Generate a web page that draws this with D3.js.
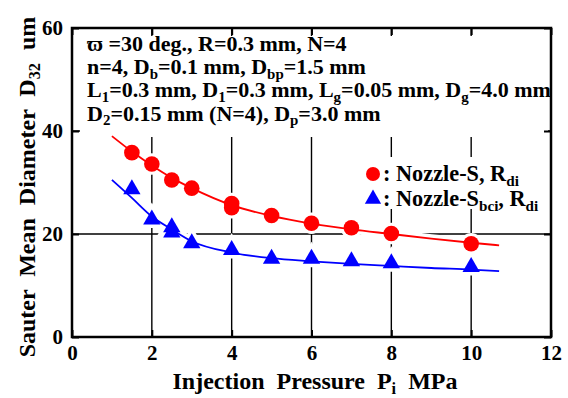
<!DOCTYPE html>
<html>
<head>
<meta charset="utf-8">
<script src="https://cdn.jsdelivr.net/npm/d3@7/dist/d3.min.js"></script>
<style>
  html, body { margin: 0; padding: 0; background: #fff; }
  svg { display: block; }
  svg text { font-family: "Liberation Serif", "DejaVu Serif", serif; font-weight: bold; fill: #000; }
</style>
</head>
<body>
<svg id="chart" width="568" height="398"></svg>
<script>
// ---- data ----
const xTicks = [0, 2, 4, 6, 8, 10, 12];
const yTicks = [0, 20, 40, 60];
const gridX = [2, 4, 6, 8, 10];
const gridY = [20, 40];

const pressureS = [1.5, 2, 2.5, 3, 4, 4, 5, 6, 7, 8, 10];
const d32S      = [35.8, 33.6, 30.5, 28.9, 25.9, 25.1, 23.6, 22.1, 21.2, 20.1, 18.1];

const pressureSbci = [1.5, 2, 2.5, 2.5, 3, 4, 5, 6, 7, 8, 10];
const d32Sbci      = [28.7, 22.8, 21.3, 20.3, 18.2, 16.9, 15.2, 15.2, 14.7, 14.3, 13.6];

const fitX    = [1, 1.5, 2, 2.5, 3, 4, 5, 6, 7, 8, 9, 10, 10.7];
const fitS    = [39.0, 36.0, 33.3, 30.9, 28.9, 25.6, 23.5, 22.0, 20.9, 20.0, 19.1, 18.3, 17.8];
const fitSbci = [30.5, 27.0, 23.4, 20.9, 18.6, 16.4, 15.3, 14.7, 14.2, 13.8, 13.4, 13.1, 12.8];

const svg = d3.select("#chart");
const L = 72, R = 551, T = 28, B = 337;
const x = d3.scaleLinear().domain([0, 12]).range([L, R]);
const y = d3.scaleLinear().domain([0, 60]).range([B, T]);

// grid lines
const g = svg.append("g");
g.selectAll(".gx").data(gridX).join("line")
  .attr("x1", d => x(d)).attr("x2", d => x(d)).attr("y1", T).attr("y2", B)
  .attr("stroke", "#000").attr("stroke-width", 1.4);
g.selectAll(".gy").data(gridY).join("line")
  .attr("y1", d => y(d)).attr("y2", d => y(d)).attr("x1", L).attr("x2", R)
  .attr("stroke", "#000").attr("stroke-width", 1.4);

// white backgrounds of annotation and legend
svg.append("rect").attr("x", 80).attr("y", 36).attr("width", 468).attr("height", 101).attr("fill", "#fff");
svg.append("rect").attr("x", 358).attr("y", 157).attr("width", 190).attr("height", 52).attr("fill", "#fff");

const lineGen = arr => d3.line().x((d, i) => x(fitX[i])).y((d, i) => y(arr[i])).curve(d3.curveMonotoneX)(arr);
const tri = d3.symbol().type(d3.symbolTriangle).size(130);

// halos
svg.append("path").attr("d", lineGen(fitS)).attr("fill", "none").attr("stroke", "#fff").attr("stroke-width", 9);
svg.append("path").attr("d", lineGen(fitSbci)).attr("fill", "none").attr("stroke", "#fff").attr("stroke-width", 9);
svg.selectAll(".hc").data(pressureS).join("circle")
  .attr("cx", d => x(d)).attr("cy", (d, i) => y(d32S[i])).attr("r", 7.8)
  .attr("fill", "#fff").attr("stroke", "#fff").attr("stroke-width", 6);
svg.selectAll(".ht").data(pressureSbci).join("path")
  .attr("d", tri).attr("transform", (d, i) => `translate(${x(d)},${y(d32Sbci[i])})`)
  .attr("fill", "#fff").attr("stroke", "#fff").attr("stroke-width", 7);

// curves
svg.append("path").attr("d", lineGen(fitS)).attr("fill", "none").attr("stroke", "#ff0000").attr("stroke-width", 1.8);
svg.append("path").attr("d", lineGen(fitSbci)).attr("fill", "none").attr("stroke", "#0000ff").attr("stroke-width", 1.8);

// markers
svg.selectAll(".mc").data(pressureS).join("circle")
  .attr("cx", d => x(d)).attr("cy", (d, i) => y(d32S[i])).attr("r", 7.8)
  .attr("fill", "#ff0000");
svg.selectAll(".mt").data(pressureSbci).join("path")
  .attr("d", tri).attr("transform", (d, i) => `translate(${x(d)},${y(d32Sbci[i])})`)
  .attr("fill", "#0000ff");

// axes with inward ticks
const ax = svg.append("g");
ax.append("g").attr("transform", `translate(0,${B})`)
  .call(d3.axisBottom(x).tickValues(xTicks).tickSize(-7).tickPadding(8).tickFormat(d3.format("d")));
ax.append("g").attr("transform", `translate(0,${T})`)
  .call(d3.axisTop(x).tickValues(xTicks).tickSize(-7).tickFormat(""));
ax.append("g").attr("transform", `translate(${L},0)`)
  .call(d3.axisLeft(y).tickValues(yTicks).tickSize(-7).tickPadding(9).tickFormat(d3.format("d")));
ax.append("g").attr("transform", `translate(${R},0)`)
  .call(d3.axisRight(y).tickValues(yTicks).tickSize(-7).tickFormat(""));
ax.selectAll(".domain").remove();
ax.selectAll(".tick line").attr("stroke", "#000").attr("stroke-width", 2);
ax.selectAll(".tick text").attr("font-family", null)
  .style("font-family", "'Liberation Serif', 'DejaVu Serif', serif").style("font-weight", "bold")
  .style("font-size", "21px").attr("fill", "#000");

svg.append("rect").attr("x", L).attr("y", T).attr("width", R - L).attr("height", B - T)
  .attr("fill", "none").attr("stroke", "#000").attr("stroke-width", 2.5);

// rich text with subscripts (no empty tspans)
function richText(parent, xPos, yPos, parts, size) {
  const t = parent.append("text").attr("x", xPos).attr("y", yPos)
    .style("font-size", size + "px").style("white-space", "pre");
  let shift = 0;
  parts.forEach(p => {
    if (typeof p === "string") {
      t.append("tspan").attr("dy", -shift).text(p);
      shift = 0;
    } else {
      const s = size * 0.22;
      t.append("tspan").attr("dy", s - shift).style("font-size", (size * 0.68) + "px").text(p.sub);
      shift = s;
    }
  });
  return t;
}
const annot = [
  ["\u03d6 =30 deg., R=0.3 mm, N=4"],
  ["n=4, D", {sub: "b"}, "=0.1 mm, D", {sub: "bp"}, "=1.5 mm"],
  ["L", {sub: "1"}, "=0.3 mm, D", {sub: "1"}, "=0.3 mm, L", {sub: "g"}, "=0.05 mm, D", {sub: "g"}, "=4.0 mm"],
  ["D", {sub: "2"}, "=0.15 mm (N=4), D", {sub: "p"}, "=3.0 mm"]
];
annot.forEach((parts, i) => richText(svg, 87, 51 + i * 23.2, parts, 22));

// legend
svg.append("circle").attr("cx", 373).attr("cy", 174).attr("r", 7).attr("fill", "#ff0000");
svg.append("path").attr("d", d3.symbol().type(d3.symbolTriangle).size(115))
  .attr("transform", "translate(373,199)").attr("fill", "#0000ff");
richText(svg, 383, 181, [": Nozzle-S, R", {sub: "di"}], 22.3);
richText(svg, 383, 206, [": Nozzle-S", {sub: "bci"}, ", R", {sub: "di"}], 22.3);

// axis titles
richText(svg, 315, 389, ["Injection Pressure P", {sub: "i"}, " MPa"], 24)
  .attr("text-anchor", "middle").style("word-spacing", "6px");
richText(svg.append("g").attr("transform", "translate(35,187) rotate(-90)"), 0, 0,
  ["Sauter Mean Diameter D", {sub: "32"}, " um"], 24)
  .attr("text-anchor", "middle").style("word-spacing", "7px");
</script>
</body>
</html>
